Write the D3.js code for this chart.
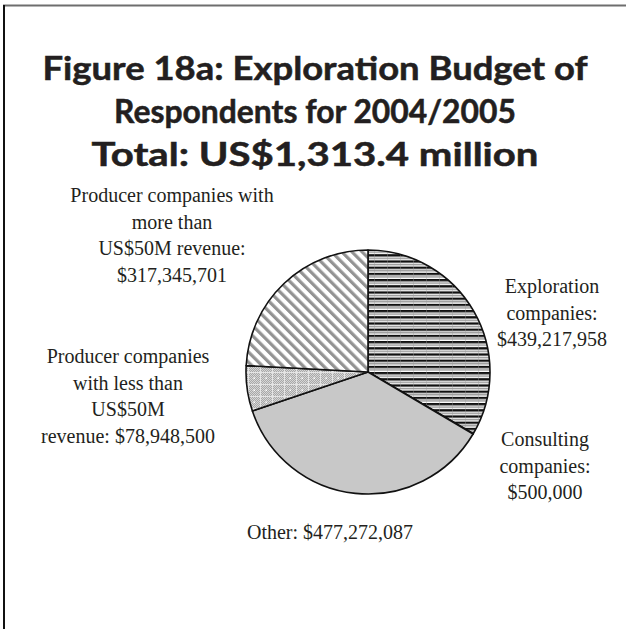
<!DOCTYPE html>
<html>
<head>
<meta charset="utf-8">
<script src="https://cdn.jsdelivr.net/npm/d3@7/dist/d3.min.js"></script>
<style>
  html, body { margin: 0; padding: 0; background: #fff; }
  svg { display: block; }
</style>
</head>
<body>
<svg id="chart" width="626" height="629"></svg>
<script>
// Exploration budget by respondent type, 2004/2005 (US$)
const categories = [
  "Exploration companies",
  "Consulting companies",
  "Other",
  "Producer companies with less than US$50M revenue",
  "Producer companies with more than US$50M revenue"
];
const values = [439217958, 500000, 477272087, 78948500, 317345701];
const labelLines = [
  ["Exploration", "companies:", "$439,217,958"],
  ["Consulting", "companies:", "$500,000"],
  ["Other: $477,272,087"],
  ["Producer companies", "with less than", "US$50M", "revenue: $78,948,500"],
  ["Producer companies with", "more than", "US$50M revenue:", "$317,345,701"]
];
const titleLines = [
  "Figure 18a: Exploration Budget of",
  "Respondents for 2004/2005",
  "Total:  US$1,313.4 million"
];

// layout
const W = 626, H = 629;
const cx = 368, cy = 372, R = 122;
const labelAnchors = [
  { x: 552, y: 293 },
  { x: 545, y: 446 },
  { x: 330, y: 539 },
  { x: 128, y: 363 },
  { x: 172, y: 202 }
];
const lineGap = 26.5;

const svg = d3.select("#chart");
const defs = svg.append("defs");

// horizontal stripe fill
const pStripe = defs.append("pattern").attr("id", "hstripe")
  .attr("patternUnits", "userSpaceOnUse").attr("width", 13).attr("height", 6.2);
pStripe.append("rect").attr("width", 13).attr("height", 6.2).attr("fill", "#fff");
pStripe.append("rect").attr("y", 0).attr("width", 13).attr("height", 2.3).attr("fill", "#111");
pStripe.append("rect").attr("y", 3.3).attr("width", 13).attr("height", 1.6).attr("fill", "#999");
pStripe.append("rect").attr("x", 6).attr("width", 0.8).attr("height", 6.2).attr("fill", "#9a9a9a").attr("opacity", 0.5);

// diagonal stripe fill
const pDiag = defs.append("pattern").attr("id", "diag")
  .attr("patternUnits", "userSpaceOnUse").attr("width", 7.2).attr("height", 10)
  .attr("patternTransform", "rotate(-45)");
pDiag.append("rect").attr("width", 7.2).attr("height", 10).attr("fill", "#fff");
pDiag.append("rect").attr("x", 0).attr("width", 3.2).attr("height", 10).attr("fill", "#939393");

// fine checkered fill with light grid
const pCheck = defs.append("pattern").attr("id", "check")
  .attr("patternUnits", "userSpaceOnUse").attr("width", 12).attr("height", 12);
pCheck.append("rect").attr("width", 12).attr("height", 12).attr("fill", "#a8a8a8");
for (let i = 0; i < 12; i++) {
  for (let j = 0; j < 12; j++) {
    if ((i + j) % 2 === 0) {
      pCheck.append("rect").attr("x", i).attr("y", j).attr("width", 1).attr("height", 1).attr("fill", "#d6d6d6");
    }
  }
}
pCheck.append("rect").attr("x", 0).attr("y", 0).attr("width", 12).attr("height", 1).attr("fill", "#e4e4e4");
pCheck.append("rect").attr("x", 0).attr("y", 0).attr("width", 1).attr("height", 12).attr("fill", "#e4e4e4");
pCheck.append("rect").attr("x", 5.5).attr("y", 5.5).attr("width", 1.5).attr("height", 1.5).attr("fill", "#fff");

const fills = ["url(#hstripe)", "#c6c6c6", "#c8c8c8", "url(#check)", "url(#diag)"];

// frame
svg.append("line").attr("x1", 3).attr("x2", W).attr("y1", 5.5).attr("y2", 5.5)
  .attr("stroke", "#6e6e6e").attr("stroke-width", 2);
svg.append("line").attr("x1", 4).attr("x2", 4).attr("y1", 5).attr("y2", H)
  .attr("stroke", "#111").attr("stroke-width", 2);

// title
const title = svg.append("g").attr("font-family", "Lato, 'Open Sans', sans-serif")
  .attr("font-weight", "bold").attr("font-size", 32).attr("fill", "#231f20")
  .attr("text-anchor", "middle").style("white-space", "pre");
const titleWidths = [545, 402, 447];
titleLines.forEach((t, i) => {
  title.append("text").attr("x", 315).attr("y", 80 + i * 43)
    .attr("textLength", titleWidths[i]).attr("lengthAdjust", "spacingAndGlyphs")
    .attr("stroke", "#231f20").attr("stroke-width", 0.5)
    .text(t);
});

// pie
const pie = d3.pie().sort(null).value(d => d)
  .startAngle(0).endAngle(2 * Math.PI);
const arc = d3.arc().innerRadius(0).outerRadius(R);
const arcs = pie(values);

const g = svg.append("g").attr("transform", `translate(${cx},${cy})`);
g.selectAll("path.slice").data(arcs).enter().append("path")
  .attr("class", "slice")
  .attr("d", arc)
  .attr("fill", (d, i) => fills[i])
  .attr("stroke", "#111")
  .attr("stroke-width", 1.6)
  .attr("stroke-linejoin", "round");

// labels
const lbl = svg.append("g").attr("font-family", "'Liberation Serif', 'DejaVu Serif', serif")
  .attr("font-size", 20).attr("fill", "#231f20").attr("text-anchor", "middle");
labelLines.forEach((lines, i) => {
  const a = labelAnchors[i];
  lines.forEach((t, k) => {
    lbl.append("text").attr("x", a.x).attr("y", a.y + k * lineGap).text(t);
  });
});
</script>
</body>
</html>
